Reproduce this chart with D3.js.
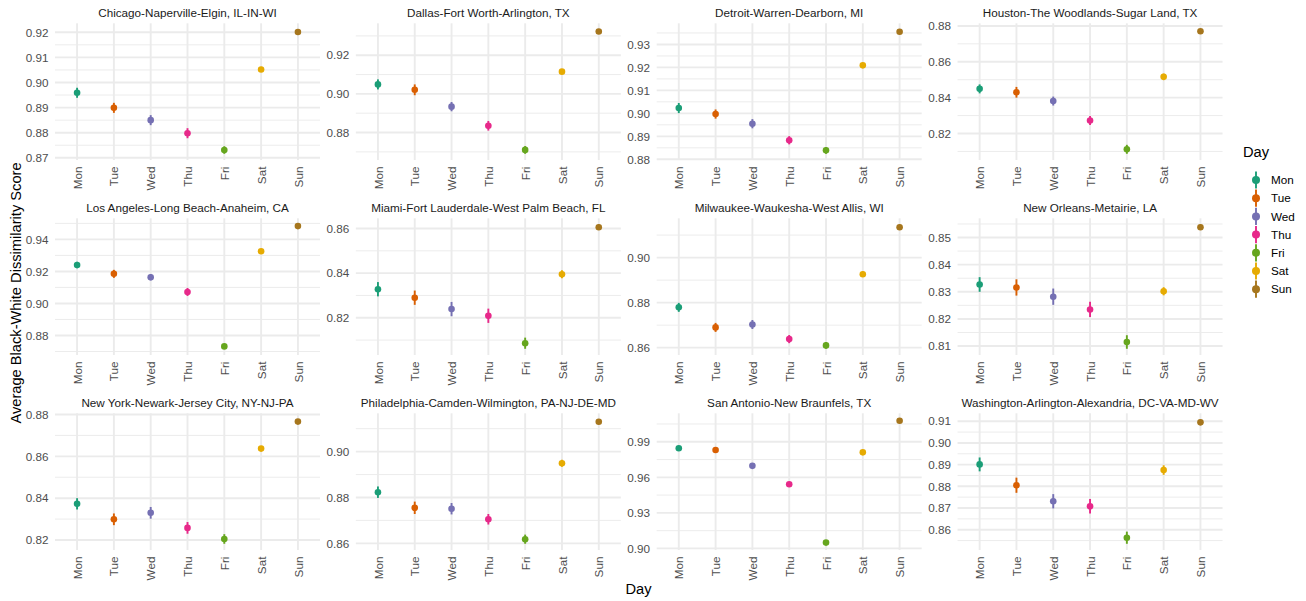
<!DOCTYPE html>
<html>
<head>
<meta charset="utf-8">
<script src="https://cdn.jsdelivr.net/npm/d3@7"></script>
<style>
  html, body { margin: 0; padding: 0; background: #ffffff; }
  svg { display: block; font-family: "Liberation Sans", Arial, Helvetica, sans-serif; }
</style>
</head>
<body>
<svg id="chart" width="1306" height="601"></svg>
<script>
// Metro areas, one facet each (4 x 3 grid)
const metros = [
  "Chicago-Naperville-Elgin, IL-IN-WI",
  "Dallas-Fort Worth-Arlington, TX",
  "Detroit-Warren-Dearborn, MI",
  "Houston-The Woodlands-Sugar Land, TX",
  "Los Angeles-Long Beach-Anaheim, CA",
  "Miami-Fort Lauderdale-West Palm Beach, FL",
  "Milwaukee-Waukesha-West Allis, WI",
  "New Orleans-Metairie, LA",
  "New York-Newark-Jersey City, NY-NJ-PA",
  "Philadelphia-Camden-Wilmington, PA-NJ-DE-MD",
  "San Antonio-New Braunfels, TX",
  "Washington-Arlington-Alexandria, DC-VA-MD-WV"
];

const days = ["Mon", "Tue", "Wed", "Thu", "Fri", "Sat", "Sun"];

// Dark2 palette, one colour per day
const dayColors = ["#1B9E77", "#D95F02", "#7570B3", "#E7298A", "#66A61E", "#E6AB02", "#A6761D"];

// Mean dissimilarity score per metro (rows) and day (Mon..Sun)
const meanScores = [
  [0.8959, 0.8899, 0.8850, 0.8798, 0.8731, 0.9052, 0.9201],
  [0.9049, 0.9021, 0.8934, 0.8835, 0.8710, 0.9115, 0.9323],
  [0.9023, 0.8997, 0.8955, 0.8883, 0.8839, 0.9209, 0.9355],
  [0.8449, 0.8430, 0.8381, 0.8273, 0.8112, 0.8516, 0.8770],
  [0.9240, 0.9185, 0.9164, 0.9072, 0.8732, 0.9326, 0.9483],
  [0.8328, 0.8290, 0.8239, 0.8209, 0.8086, 0.8395, 0.8606],
  [0.8779, 0.8690, 0.8703, 0.8638, 0.8610, 0.8926, 0.9135],
  [0.8327, 0.8316, 0.8282, 0.8235, 0.8115, 0.8302, 0.8538],
  [0.8373, 0.8299, 0.8330, 0.8258, 0.8205, 0.8637, 0.8766],
  [0.8823, 0.8755, 0.8751, 0.8705, 0.8618, 0.8949, 0.9130],
  [0.9846, 0.9831, 0.9697, 0.9542, 0.9049, 0.9811, 1.0078],
  [0.8901, 0.8805, 0.8731, 0.8708, 0.8563, 0.8875, 0.9095]
];

// Half-width of the interval drawn around each mean
const intervalHalfWidths = [
  [0.0020, 0.0020, 0.0020, 0.0020, 0.0015, 0.0010, 0.0010],
  [0.0026, 0.0028, 0.0024, 0.0025, 0.0020, 0.0012, 0.0010],
  [0.0022, 0.0020, 0.0020, 0.0018, 0.0015, 0.0010, 0.0010],
  [0.0025, 0.0030, 0.0025, 0.0025, 0.0025, 0.0018, 0.0010],
  [0.0020, 0.0025, 0.0020, 0.0025, 0.0015, 0.0012, 0.0010],
  [0.0032, 0.0032, 0.0032, 0.0032, 0.0025, 0.0018, 0.0012],
  [0.0020, 0.0020, 0.0020, 0.0018, 0.0015, 0.0012, 0.0012],
  [0.0027, 0.0030, 0.0030, 0.0028, 0.0025, 0.0015, 0.0010],
  [0.0027, 0.0028, 0.0028, 0.0028, 0.0023, 0.0012, 0.0010],
  [0.0025, 0.0027, 0.0025, 0.0023, 0.0020, 0.0015, 0.0010],
  [0.0010, 0.0010, 0.0010, 0.0010, 0.0010, 0.0010, 0.0010],
  [0.0032, 0.0035, 0.0033, 0.0033, 0.0028, 0.0022, 0.0013]
];

// Labelled y ticks for each facet (free y scales)
const yTicks = [
  [0.87, 0.88, 0.89, 0.90, 0.91, 0.92],
  [0.88, 0.90, 0.92],
  [0.88, 0.89, 0.90, 0.91, 0.92, 0.93],
  [0.82, 0.84, 0.86, 0.88],
  [0.88, 0.90, 0.92, 0.94],
  [0.82, 0.84, 0.86],
  [0.86, 0.88, 0.90],
  [0.81, 0.82, 0.83, 0.84, 0.85],
  [0.82, 0.84, 0.86, 0.88],
  [0.86, 0.88, 0.90],
  [0.90, 0.93, 0.96, 0.99],
  [0.86, 0.87, 0.88, 0.89, 0.90, 0.91]
];

const yTitle = "Average Black-White Dissimilarity Score";
const xTitle = "Day";
const legendTitle = "Day";

// ---- layout ----
const svg = d3.select("#chart");
const nCols = 4;
const panelW = 265, panelH = 136.7;
const colPitch = 300.85, rowPitch = 195;
const firstLeft = 55, firstTop = 23.3;
const gridColor = "#EBEBEB";
const tickGap = 6.6;
const fmt = d3.format(".2f");

metros.forEach((name, i) => {
  const col = i % nCols, row = Math.floor(i / nCols);
  const left = firstLeft + col * colPitch;
  const top = firstTop + row * rowPitch;

  const rows = days.map((d, j) => ({
    day: d,
    color: dayColors[j],
    mean: meanScores[i][j],
    lo: meanScores[i][j] - intervalHalfWidths[i][j],
    hi: meanScores[i][j] + intervalHalfWidths[i][j]
  }));

  // continuous scale expanded by 5% of the data range on each side
  const lo = d3.min(rows, r => r.lo), hi = d3.max(rows, r => r.hi);
  const pad = (hi - lo) * 0.05;
  const y = d3.scaleLinear().domain([lo - pad, hi + pad]).range([top + panelH, top]);
  const x = d3.scalePoint().domain(days).range([left, left + panelW]).padding(0.6);

  const g = svg.append("g").attr("class", "panel");

  // minor gridlines halfway between labelled ticks
  const ticks = yTicks[i];
  const step = ticks[1] - ticks[0];
  const minor = [];
  for (let v = ticks[0] - step / 2; v <= y.domain()[1] + 1e-9; v += step) {
    if (v >= y.domain()[0]) minor.push(v);
  }
  g.selectAll("line.minor").data(minor).join("line")
    .attr("x1", left).attr("x2", left + panelW)
    .attr("y1", d => y(d)).attr("y2", d => y(d))
    .attr("stroke", gridColor).attr("stroke-width", 0.95);

  g.selectAll("line.major-y").data(ticks).join("line")
    .attr("x1", left).attr("x2", left + panelW)
    .attr("y1", d => y(d)).attr("y2", d => y(d))
    .attr("stroke", gridColor).attr("stroke-width", 1.9);

  g.selectAll("line.major-x").data(days).join("line")
    .attr("x1", d => x(d)).attr("x2", d => x(d))
    .attr("y1", top).attr("y2", top + panelH)
    .attr("stroke", gridColor).attr("stroke-width", 1.9);

  // intervals and means
  g.selectAll("line.range").data(rows).join("line")
    .attr("x1", d => x(d.day)).attr("x2", d => x(d.day))
    .attr("y1", d => y(d.lo)).attr("y2", d => y(d.hi))
    .attr("stroke", d => d.color).attr("stroke-width", 1.9);

  g.selectAll("circle").data(rows).join("circle")
    .attr("cx", d => x(d.day)).attr("cy", d => y(d.mean))
    .attr("r", 3.3).attr("fill", d => d.color);

  // y axis
  const yAxis = svg.append("g")
    .attr("transform", `translate(${left},0)`)
    .call(d3.axisLeft(y).tickValues(ticks).tickFormat(fmt).tickSize(0).tickPadding(tickGap));
  yAxis.select(".domain").remove();
  yAxis.selectAll("text")
    .attr("fill", "#4D4D4D").style("font-size", "11.7px")
    .style("font-family", "'Liberation Sans', Arial, sans-serif");

  // x axis with vertical labels
  const xAxis = svg.append("g")
    .attr("transform", `translate(0,${top + panelH})`)
    .call(d3.axisBottom(x).tickSize(0));
  xAxis.select(".domain").remove();
  xAxis.selectAll("text")
    .attr("fill", "#4D4D4D").style("font-size", "11.7px")
    .style("font-family", "'Liberation Sans', Arial, sans-serif")
    .attr("transform", "rotate(-90)")
    .attr("text-anchor", "end")
    .attr("x", -tickGap).attr("y", 0).attr("dy", "0.35em");

  // strip title
  svg.append("text")
    .attr("x", left + panelW / 2).attr("y", top - 6.3)
    .attr("text-anchor", "middle")
    .attr("fill", "#1A1A1A").style("font-size", "11.7px")
    .text(name);
});

// axis titles
svg.append("text")
  .attr("transform", "translate(20.5,293) rotate(-90)")
  .attr("text-anchor", "middle")
  .style("font-size", "14.67px").attr("fill", "#000")
  .text(yTitle);

svg.append("text")
  .attr("x", 638.5).attr("y", 594)
  .attr("text-anchor", "middle")
  .style("font-size", "14.67px").attr("fill", "#000")
  .text(xTitle);

// legend
const legend = svg.append("g").attr("transform", "translate(1243,0)");
legend.append("text")
  .attr("x", 0).attr("y", 157)
  .style("font-size", "14.67px").attr("fill", "#000")
  .text(legendTitle);

const keys = legend.selectAll("g.key").data(days).join("g")
  .attr("transform", (d, j) => `translate(0,${180 + j * 18.2})`);
keys.append("line")
  .attr("x1", 13).attr("x2", 13).attr("y1", -8.6).attr("y2", 8.6)
  .attr("stroke", (d, j) => dayColors[j]).attr("stroke-width", 1.9);
keys.append("circle")
  .attr("cx", 13).attr("cy", 0).attr("r", 4)
  .attr("fill", (d, j) => dayColors[j]);
keys.append("text")
  .attr("x", 28).attr("y", 0).attr("dy", "0.35em")
  .style("font-size", "11.7px").attr("fill", "#000")
  .text(d => d);
</script>
</body>
</html>
